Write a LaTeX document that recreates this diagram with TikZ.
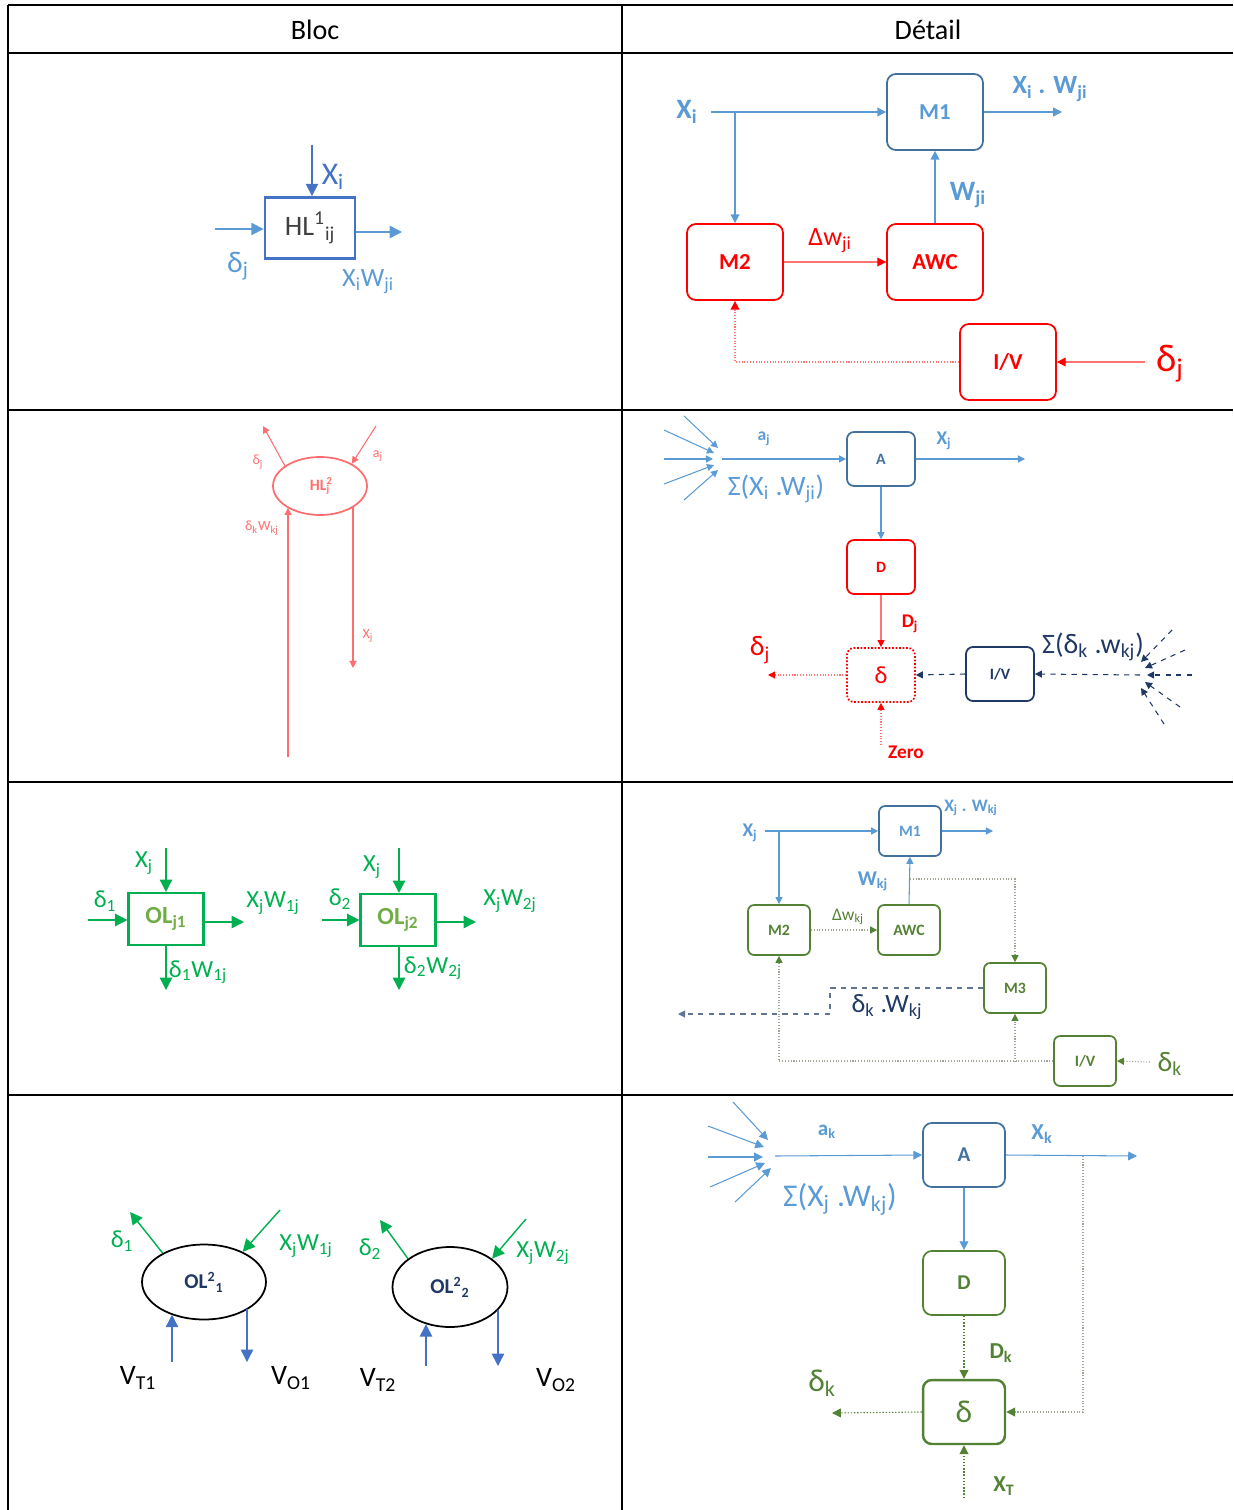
\documentclass[tikz,border=0pt]{standalone}
\usepackage{fontspec}
\setmainfont{Carlito}
\usetikzlibrary{arrows.meta, positioning, calc, shapes.geometric}
\definecolor{myblue}{RGB}{91,155,213}
\definecolor{mysteel}{RGB}{65,113,156}
\definecolor{mydblue}{RGB}{68,114,196}
\definecolor{myred}{RGB}{255,0,0}
\definecolor{mylred}{RGB}{255,110,110}
\definecolor{mygreen}{RGB}{0,176,80}
\definecolor{mylgreen}{RGB}{112,173,71}
\definecolor{myolive}{RGB}{84,130,53}
\definecolor{mynavy}{RGB}{31,56,100}
\definecolor{mygray}{RGB}{64,64,64}
\definecolor{mydot}{RGB}{160,165,150}
\newcommand{\fs}[1]{\fontsize{#1}{#1}\selectfont}
\newcommand{\sub}[1]{\textsubscript{#1}}
\tikzset{
  rbox/.style={rectangle, rounded corners=5pt, line width=1pt, inner sep=0pt},
  bigbox/.style={rbox, minimum width=1.92cm, minimum height=1.52cm, font=\fs{13pt}\bfseries},
  midbox/.style={rbox, rounded corners=4pt, minimum width=1.36cm, minimum height=1.08cm, font=\fs{9pt}\bfseries},
  smallbox/.style={rbox, rounded corners=3.5pt, minimum width=1.24cm, minimum height=1.0cm, font=\fs{9pt}\bfseries},
  wbox/.style={rbox, minimum width=1.64cm, minimum height=1.28cm, font=\fs{12pt}\bfseries},
  olbox/.style={rectangle, draw=mygreen, line width=1.2pt, minimum width=1.5cm,
    minimum height=1.04cm, inner sep=0pt, text=mylgreen, font=\fs{14pt}\bfseries},
  neuron/.style={ellipse, draw, line width=1pt, inner sep=0pt},
  lbl/.style={inner sep=0pt},
  arrow/.style={-{Triangle[length=5pt,width=5pt]}, line width=0.8pt},
  bigarrow/.style={-{Triangle[length=7pt,width=7pt]}, line width=0.8pt},
  smallarrow/.style={-{Triangle[length=4pt,width=4pt]}, line width=0.6pt},
  redarrow/.style={-{Triangle[length=5pt,width=5pt,color=myred]}, line width=0.6pt, color=myred!55},
  dotarrow/.style={-{Triangle[length=4pt,width=4pt,color=myolive]}, mydot, densely dotted, line width=0.6pt}
}
\begin{document}
\begin{tikzpicture}[x=0.02cm, y=-0.02cm]
  \useasboundingbox (0,0) rectangle (1233,1510);

  % Table frame
  \draw[line width=1.6pt] (8,5) -- (1233,5);
  \foreach \y in {53,410,782,1095} {
    \draw[line width=1.2pt] (8,\y) -- (1233,\y);
  }
  \draw[line width=1.2pt] (8,5) -- (8,1510);
  \draw[line width=1.2pt] (622,5) -- (622,1510);
  \node[lbl, font=\fs{16pt}] (hbloc) at (315,30) {Bloc};
  \node[lbl, font=\fs{16pt}] (hdetail) at (928,30) {Détail};

  % Row 1, bloc
  \node[rectangle, draw=mydblue, line width=1.6pt, minimum width=1.8cm, minimum height=1.22cm,
    text=mygray, font=\fs{16pt}] (hl) at (310,228) {HL\textsuperscript{1}\sub{ij}};
  \coordinate (hlin) at (312,145);
  \coordinate (hlleft) at (215,229);
  \coordinate (hlright) at (402,232);
  \draw[bigarrow, mydblue] (hlin) -- (hlin |- hl.north);
  \draw[bigarrow, myblue] (hlleft) -- (hlleft -| hl.west);
  \draw[bigarrow, myblue] (hlright -| hl.east) -- (hlright);
  \node[lbl, text=mydblue, font=\fs{18pt}] (lxi) at (333,177) {X\sub{i}};
  \node[lbl, text=myblue, font=\fs{17pt}] (ldj) at (238,266) {δ\sub{j}};
  \node[lbl, text=myblue, font=\fs{15pt}] (lxw) at (368,282) {X\sub{i}W\sub{ji}};

  % Row 1, detail
  \node[bigbox, draw=mysteel, text=myblue] (m1a) at (935,112) {M1};
  \node[bigbox, draw=myred, text=myred] (m2a) at (735,262) {M2};
  \node[bigbox, draw=myred, text=myred] (awca) at (935,262) {AWC};
  \node[bigbox, draw=myred, text=myred] (iva) at (1008,362) {I/V};
  \coordinate (xia) at (711,112);
  \coordinate (bra) at (735,112);
  \coordinate (outa) at (1062,112);
  \coordinate (dja) at (1145,362);
  \draw[arrow, myblue] (xia) -- (m1a.west);
  \draw[arrow, myblue] (bra) -- (m2a.north);
  \draw[arrow, myblue] (m1a.east) -- (outa);
  \draw[arrow, myblue] (awca.north) -- (m1a.south);
  \draw[redarrow] (m2a.east) -- (awca.west);
  \draw[redarrow] (dja) -- (iva.east);
  \draw[redarrow, densely dotted] (iva.west) -| (m2a.south);
  \node[lbl, text=myblue, font=\fs{16pt}\bfseries] (lxia) at (687,112) {X\sub{i}};
  \node[lbl, text=myblue, font=\fs{15pt}\bfseries] (lxwa) at (1050,89) {X\sub{i} . W\sub{ji}};
  \node[lbl, text=myblue, font=\fs{16pt}\bfseries] (lwa) at (968,195) {W\sub{ji}};
  \node[lbl, text=myred, font=\fs{15pt}] (ldwa) at (830,241) {Δw\sub{ji}};
  \node[lbl, text=myred, font=\fs{22pt}] (ldja) at (1170,364) {δ\sub{j}};

  % Row 2, bloc
  \node[neuron, draw=mylred, minimum width=1.88cm, minimum height=1.16cm, text=mylred,
    font=\fs{9pt}\bfseries] (hl2) at (320,486) {HL\rlap{\textsuperscript{2}}\sub{j}};
  \coordinate (dout) at (263,426);
  \coordinate (ain) at (376,426);
  \coordinate (dwin) at (288,757);
  \coordinate (xout) at (353,668);
  \draw[smallarrow, mylred] (hl2.150) -- (dout);
  \draw[smallarrow, mylred] (ain) -- (hl2.35);
  \draw[smallarrow, mylred] (dwin) -- (dwin |- hl2.214);
  \draw[smallarrow, mylred] (xout |- hl2.328) -- (xout);
  \node[lbl, text=mylred, font=\fs{8pt}] (ldjb) at (258,462) {δ\sub{j}};
  \node[lbl, text=mylred, font=\fs{8pt}] (lajb) at (378,456) {a\sub{j}};
  \node[lbl, text=mylred, font=\fs{8pt}] (ldwb) at (262,528) {δ\sub{k}W\sub{kj}};
  \node[lbl, text=mylred, font=\fs{8pt}] (lxjb) at (368,636) {X\sub{j}};

  % Row 2, detail
  \foreach \i/\sx/\sy/\ex/\ey in {1/684/416/718/448, 2/664/430/714/453, 3/664/459/713/459,
      4/664/484/714/465, 5/684/500/718/470} {
    \coordinate (fsb\i) at (\sx,\sy);
    \coordinate (feb\i) at (\ex,\ey);
    \draw[smallarrow, myblue] (fsb\i) -- (feb\i);
  }
  \node[midbox, draw=mysteel, text=mysteel] (ab) at (881,459) {A};
  \node[midbox, draw=myred, text=myred] (db) at (881,567) {D};
  \node[midbox, draw=myred, densely dotted, text=myred, font=\fs{14pt}] (deltab) at (881,675) {δ};
  \node[midbox, draw=mynavy, text=mynavy] (ivb) at (1000,674) {I/V};
  \coordinate (sumb) at (722,459);
  \coordinate (xjb) at (1025,459);
  \coordinate (djb) at (768,675);
  \coordinate (zerob) at (881,745);
  \coordinate (fanr) at (1140,675);
  \draw[smallarrow, myblue] (sumb) -- (ab.west);
  \draw[smallarrow, myblue] (ab.east) -- (xjb);
  \draw[smallarrow, myblue] (ab.south) -- (db.north);
  \draw[redarrow, -{Triangle[length=4pt,width=4pt,color=myred]}] (db.south) -- (deltab.north);
  \draw[redarrow, -{Triangle[length=4pt,width=4pt,color=myred]}, densely dotted] (deltab.west) -- (djb);
  \draw[redarrow, -{Triangle[length=4pt,width=4pt,color=myred]}, densely dotted] (zerob) -- (deltab.south);
  \draw[smallarrow, mynavy, dashed] (ivb.west) -- (deltab.east);
  \draw[smallarrow, mynavy, dashed] (fanr) -- (ivb.east);
  \foreach \i/\sx/\sy/\ex/\ey in {1/1172/630/1141/662, 2/1185/650/1145/668, 3/1192/675/1147/675,
      4/1180/707/1145/682, 5/1164/724/1141/688} {
    \coordinate (fsr\i) at (\sx,\sy);
    \coordinate (fer\i) at (\ex,\ey);
    \draw[smallarrow, mynavy, dashed] (fsr\i) -- (fer\i);
  }
  \node[lbl, text=myblue, font=\fs{10pt}\bfseries] (lajd) at (764,439) {a\sub{j}};
  \node[lbl, text=myblue, font=\fs{11pt}\bfseries] (lxjd) at (944,441) {X\sub{j}};
  \node[lbl, text=myblue, font=\fs{16pt}] (lsumd) at (776,489) {Σ(X\sub{i} .W\sub{ji})};
  \node[lbl, text=myred, font=\fs{11pt}\bfseries] (ldjd) at (910,624) {D\sub{j}};
  \node[lbl, text=myred, font=\fs{16pt}] (ldeltad) at (760,650) {δ\sub{j}};
  \node[lbl, text=myred, font=\fs{11pt}\bfseries] (lzero) at (906,752) {Zero};
  \node[lbl, text=mynavy, font=\fs{16pt}] (lsumk) at (1093,647) {Σ(δ\sub{k} .w\sub{kj})};

  % Row 3, bloc
  \node[olbox] (ol1) at (166,919) {OL\sub{j1}};
  \node[olbox] (ol2) at (398,920) {OL\sub{j2}};
  \foreach \n/\x in {1/166, 2/399} {
    \coordinate (ot\n) at (\x,848);
    \coordinate (ob\n) at (\x,990);
    \draw[bigarrow, mygreen] (ot\n) -- (ot\n |- ol\n.north);
    \draw[bigarrow, mygreen] (ob\n |- ol\n.south) -- (ob\n);
  }
  \coordinate (ol1l) at (88,920);
  \coordinate (ol1r) at (244,922);
  \coordinate (ol2l) at (322,920);
  \coordinate (ol2r) at (476,922);
  \draw[bigarrow, mygreen] (ol1l) -- (ol1l -| ol1.west);
  \draw[bigarrow, mygreen] (ol1r -| ol1.east) -- (ol1r);
  \draw[bigarrow, mygreen] (ol2l) -- (ol2l -| ol2.west);
  \draw[bigarrow, mygreen] (ol2r -| ol2.east) -- (ol2r);
  \node[lbl, text=mygreen, font=\fs{14pt}] (lxj1) at (144,863) {X\sub{j}};
  \node[lbl, text=mygreen, font=\fs{14pt}] (ld1) at (105,901) {δ\sub{1}};
  \node[lbl, text=mygreen, font=\fs{14pt}] (lxw1) at (273,903) {X\sub{j}W\sub{1j}};
  \node[lbl, text=mygreen, font=\fs{14pt}] (ldw1) at (198,972) {δ\sub{1}W\sub{1j}};
  \node[lbl, text=mygreen, font=\fs{14pt}] (lxj2) at (372,867) {X\sub{j}};
  \node[lbl, text=mygreen, font=\fs{14pt}] (ld2) at (340,899) {δ\sub{2}};
  \node[lbl, text=mygreen, font=\fs{14pt}] (lxw2) at (510,901) {X\sub{j}W\sub{2j}};
  \node[lbl, text=mygreen, font=\fs{14pt}] (ldw2) at (433,968) {δ\sub{2}W\sub{2j}};

  % Row 3, detail
  \node[smallbox, draw=mysteel, text=myblue] (m1c) at (910,831) {M1};
  \node[smallbox, draw=myolive, text=myolive] (m2c) at (779,930) {M2};
  \node[smallbox, draw=myolive, text=myolive] (awcc) at (909,930) {AWC};
  \node[smallbox, draw=myolive, text=myolive] (m3c) at (1015,988) {M3};
  \node[smallbox, draw=myolive, text=myolive] (ivc) at (1085,1061) {I/V};
  \coordinate (xjc) at (765,831);
  \coordinate (brc) at (779,831);
  \coordinate (outc) at (993,831);
  \coordinate (tapc) at (910,879);
  \coordinate (kneec) at (830,1014);
  \coordinate (outdc) at (678,1014);
  \coordinate (dkc) at (1150,1062);
  \coordinate (m3tap) at (1015,1062);
  \draw[smallarrow, myblue] (xjc) -- (m1c.west);
  \draw[smallarrow, myblue] (brc) -- (m2c.north);
  \draw[smallarrow, myblue] (m1c.east) -- (outc);
  \draw[smallarrow, myblue] (awcc.north) -- (m1c.south);
  \draw[dotarrow] (m2c.east) -- (awcc.west);
  \draw[dotarrow] (tapc) -| (m3c.north);
  \draw[smallarrow, mynavy!70, dashed] (m3c.west) -| (kneec) -- (outdc);
  \draw[dotarrow] (dkc) -- (ivc.east);
  \draw[dotarrow] (ivc.west) -| (m2c.south);
  \draw[dotarrow] (m3tap) -- (m3c.south);
  \node[lbl, text=myblue, font=\fs{11pt}\bfseries] (lxjc) at (750,833) {X\sub{j}};
  \node[lbl, text=myblue, font=\fs{10pt}\bfseries] (lxwc) at (971,808) {X\sub{j} . W\sub{kj}};
  \node[lbl, text=myblue, font=\fs{12pt}\bfseries] (lwc) at (873,881) {W\sub{kj}};
  \node[lbl, text=myolive, font=\fs{10pt}] (ldwc) at (848,917) {Δw\sub{kj}};
  \node[lbl, text=mynavy, font=\fs{15pt}] (ldkw) at (887,1007) {δ\sub{k} .W\sub{kj}};
  \node[lbl, text=myolive, font=\fs{16pt}] (ldkc) at (1170,1064) {δ\sub{k}};

  % Row 4, bloc
  \node[neuron, minimum width=2.48cm, minimum height=1.5cm, text=mynavy, font=\fs{12pt}\bfseries]
    (on1) at (204,1282) {OL\textsuperscript{2}\sub{1}};
  \node[neuron, minimum width=2.3cm, minimum height=1.6cm, text=mynavy, font=\fs{12pt}\bfseries]
    (on2) at (450,1287) {OL\textsuperscript{2}\sub{2}};
  \coordinate (d1o) at (130,1212);
  \coordinate (xw1) at (280,1210);
  \coordinate (vt1) at (172,1362);
  \coordinate (vo1) at (247,1362);
  \coordinate (d2o) at (380,1220);
  \coordinate (xw2) at (526,1219);
  \coordinate (vt2) at (426,1366);
  \coordinate (vo2) at (498,1366);
  \draw[bigarrow, mygreen] (on1.145) -- (d1o);
  \draw[bigarrow, mygreen] (xw1) -- (on1.38);
  \draw[bigarrow, mydblue] (vt1) -- (vt1 |- on1.225);
  \draw[bigarrow, mydblue] (vo1 |- on1.328) -- (vo1);
  \draw[bigarrow, mygreen] (on2.146) -- (d2o);
  \draw[bigarrow, mygreen] (xw2) -- (on2.34);
  \draw[bigarrow, mydblue] (vt2) -- (vt2 |- on2.237);
  \draw[bigarrow, mydblue] (vo2 |- on2.335) -- (vo2);
  \node[lbl, text=mygreen, font=\fs{14pt}] (ld1e) at (122,1241) {δ\sub{1}};
  \node[lbl, text=mygreen, font=\fs{14pt}] (lxw1e) at (306,1246) {X\sub{j}W\sub{1j}};
  \node[lbl, font=\fs{16pt}] (lvt1) at (138,1378) {V\sub{T1}};
  \node[lbl, font=\fs{16pt}] (lvo1) at (291,1378) {V\sub{O1}};
  \node[lbl, text=mygreen, font=\fs{14pt}] (ld2e) at (370,1249) {δ\sub{2}};
  \node[lbl, text=mygreen, font=\fs{14pt}] (lxw2e) at (543,1253) {X\sub{j}W\sub{2j}};
  \node[lbl, font=\fs{16pt}] (lvt2) at (378,1380) {V\sub{T2}};
  \node[lbl, font=\fs{16pt}] (lvo2) at (556,1380) {V\sub{O2}};

  % Row 4, detail
  \foreach \i/\sx/\sy/\ex/\ey in {1/733/1102/768/1140, 2/708/1126/764/1147, 3/708/1157/763/1157,
      4/710/1187/765/1163, 5/735/1202/771/1168} {
    \coordinate (fsd\i) at (\sx,\sy);
    \coordinate (fed\i) at (\ex,\ey);
    \draw[arrow, myblue, line width=0.6pt] (fsd\i) -- (fed\i);
  }
  \node[wbox, draw=mysteel, text=mysteel] (ad) at (964,1155) {A};
  \node[wbox, draw=myolive, text=myolive] (dd) at (964,1283) {D};
  \node[wbox, draw=myolive, line width=1.4pt, text=myolive, font=\fs{18pt}] (deltad) at (964,1412) {δ};
  \coordinate (sumd) at (775,1156);
  \coordinate (xkd) at (1137,1156);
  \coordinate (tapd) at (1083,1156);
  \coordinate (dkd) at (832,1413);
  \coordinate (xtd) at (964,1498);
  \draw[arrow, myblue, line width=0.6pt] (sumd) -- (ad.west);
  \draw[arrow, myblue, line width=0.6pt] (ad.east) -- (xkd);
  \draw[arrow, myblue, line width=0.6pt] (ad.south) -- (dd.north);
  \draw[dotarrow, -{Triangle[length=5pt,width=5pt,color=myolive]}] (tapd) |- (deltad.east);
  \draw[arrow, myolive, densely dotted, line width=0.6pt] (dd.south) -- (deltad.north);
  \draw[arrow, myolive, densely dotted, line width=0.6pt] (deltad.west) -- (dkd);
  \draw[arrow, myolive, densely dotted, line width=0.6pt] (xtd) -- (deltad.south);
  \node[lbl, text=myblue, font=\fs{12pt}\bfseries] (lakd) at (827,1132) {a\sub{k}};
  \node[lbl, text=myblue, font=\fs{13pt}\bfseries] (lxkd) at (1042,1134) {X\sub{k}};
  \node[lbl, text=myblue, font=\fs{18pt}] (lsumkd) at (840,1199) {Σ(X\sub{j} .W\sub{kj})};
  \node[lbl, text=myolive, font=\fs{13pt}\bfseries] (ldkd) at (1001,1353) {D\sub{k}};
  \node[lbl, text=myolive, font=\fs{18pt}] (ldeltakd) at (822,1383) {δ\sub{k}};
  \node[lbl, text=myolive, font=\fs{13pt}\bfseries] (lxtd) at (1004,1486) {X\sub{T}};
\end{tikzpicture}
\end{document}
